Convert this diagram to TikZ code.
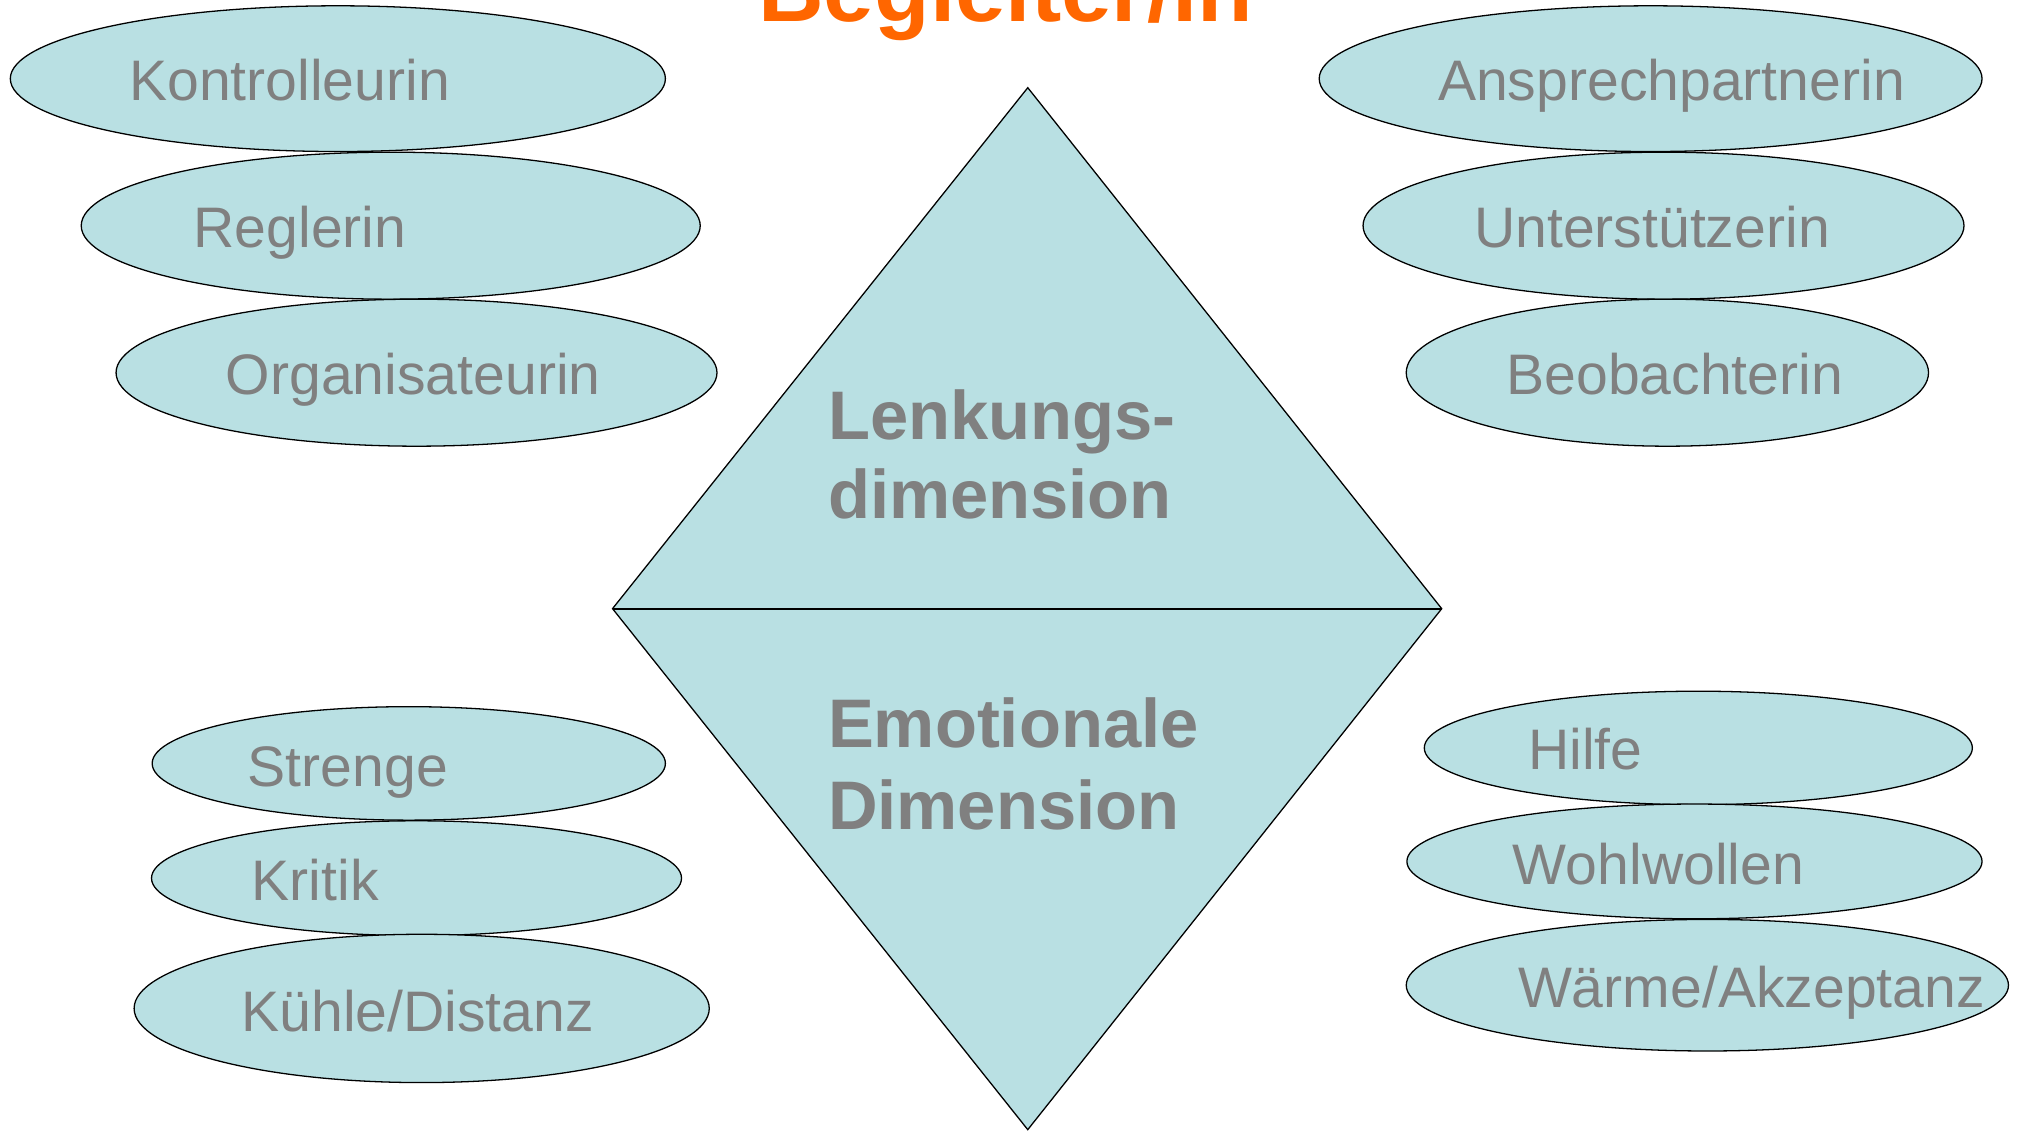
\documentclass[tikz,border=0pt]{standalone}
\usepackage{fontspec}
\setmainfont{Liberation Sans}
\usetikzlibrary{shapes.geometric}
\definecolor{fillblue}{RGB}{185,224,227}
\definecolor{txtgray}{RGB}{128,128,128}
\definecolor{titleorange}{RGB}{255,102,0}
\begin{document}
\begin{tikzpicture}[x=1pt,y=-1pt,
  oval/.style={ellipse, draw=black, line width=1pt, fill=fillblue, inner sep=0pt},
  lbl/.style={anchor=base west, inner sep=0pt, text=txtgray, font=\fontsize{44.3}{50}\selectfont},
  dimlbl/.style={anchor=base west, inner sep=0pt, text=txtgray, font=\fontsize{53.3}{62}\selectfont\bfseries}]
\useasboundingbox (0,0) rectangle (1568,878);

% title
\node[anchor=base, inner sep=0pt, text=titleorange, font=\fontsize{70.5}{80}\selectfont\bfseries] (title) at (780,17) {Begleiter/in};

% diamond
\coordinate (dtop) at (797,68);
\coordinate (dright) at (1118,472);
\coordinate (dbot) at (797,876);
\coordinate (dleft) at (475,472);
\draw[line width=1pt, fill=fillblue, line join=miter] (dtop) -- (dright) -- (dbot) -- (dleft) -- cycle;
\draw[line width=1.8pt] (dleft) -- (dright);

\node[dimlbl] (lenk1) at (642,341) {Lenkungs-};
\node[dimlbl] (lenk2) at (642,402) {dimension};
\node[dimlbl] (emo1) at (642,580) {Emotionale};
\node[dimlbl] (emo2) at (642,643) {Dimension};

% top-left
\node[oval, minimum width=508pt, minimum height=113pt] (e1) at (262,61) {};
\node[oval, minimum width=480pt, minimum height=114pt] (e2) at (303,175) {};
\node[oval, minimum width=466pt, minimum height=114pt] (e3) at (323,289) {};
\node[lbl] (t1) at (100,78) {Kontrolleurin};
\node[lbl] (t2) at (150,192) {Reglerin};
\node[lbl] (t3) at (175,306) {Organisateurin};

% top-right
\node[oval, minimum width=514pt, minimum height=113pt] (e4) at (1280,61) {};
\node[oval, minimum width=466pt, minimum height=114pt] (e5) at (1290,175) {};
\node[oval, minimum width=405pt, minimum height=114pt] (e6) at (1293,289) {};
\node[lbl] (t4) at (1115,78) {Ansprechpartnerin};
\node[lbl] (t5) at (1143,192) {Unterstützerin};
\node[lbl] (t6) at (1168,306) {Beobachterin};

% bottom-left
\node[oval, minimum width=398pt, minimum height=88pt] (e7) at (317,592) {};
\node[oval, minimum width=411pt, minimum height=89pt] (e8) at (323,681) {};
\node[oval, minimum width=446pt, minimum height=115pt] (e9) at (327,782) {};
\node[lbl] (t7) at (192,610) {Strenge};
\node[lbl] (t8) at (195,698) {Kritik};
\node[lbl] (t9) at (187,800) {Kühle/Distanz};

% bottom-right
\node[oval, minimum width=425pt, minimum height=88pt] (e10) at (1317,580) {};
\node[oval, minimum width=446pt, minimum height=89pt] (e11) at (1314,668) {};
\node[oval, minimum width=467pt, minimum height=102pt] (e12) at (1324,764) {};
\node[lbl] (t10) at (1185,597) {Hilfe};
\node[lbl] (t11) at (1173,686) {Wohlwollen};
\node[lbl] (t12) at (1177,781) {Wärme/Akzeptanz};
\end{tikzpicture}
\end{document}
